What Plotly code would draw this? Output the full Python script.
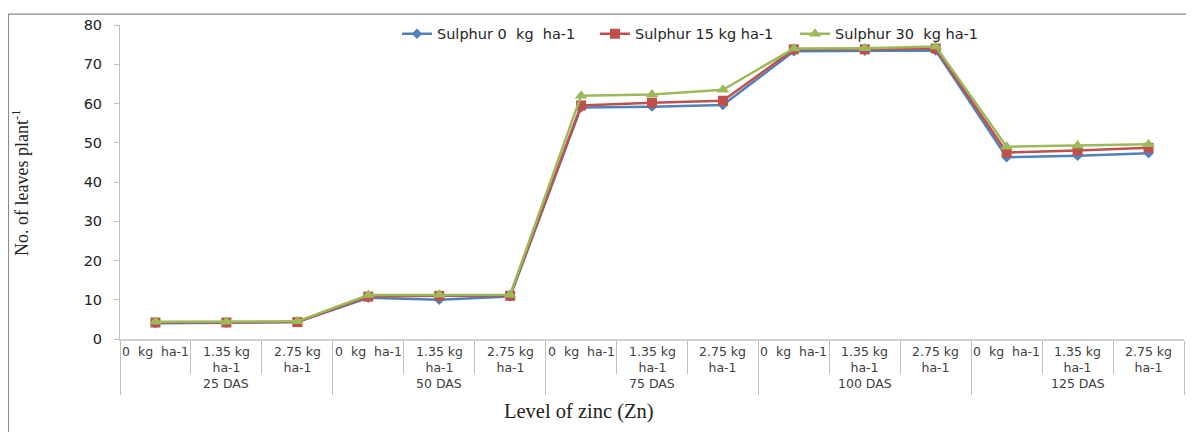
import plotly.graph_objects as go

groups = ["25 DAS", "50 DAS", "75 DAS", "100 DAS", "125 DAS"]
zinc_levels = ["0\u00a0 kg\u00a0 ha-1", "1.35 kg<br>ha-1", "2.75 kg<br>ha-1"]
series_names = ["Sulphur 0\u00a0 kg\u00a0 ha-1", "Sulphur 15 kg ha-1", "Sulphur 30\u00a0 kg ha-1"]

s0 = [4.0, 4.1, 4.3, 10.5, 10.0, 10.8, 59.0, 59.2, 59.6, 73.3, 73.4, 73.5, 46.3, 46.7, 47.3]
s15 = [4.2, 4.2, 4.3, 10.8, 11.0, 11.0, 59.5, 60.2, 60.7, 73.8, 73.8, 74.0, 47.5, 48.0, 48.7]
s30 = [4.4, 4.4, 4.5, 11.2, 11.3, 11.3, 62.0, 62.3, 63.5, 74.0, 74.1, 74.5, 49.0, 49.3, 49.6]

colors = ["#4F81BD", "#C0504D", "#9BBB59"]
symbols = ["diamond", "square", "triangle-up"]
msizes = [8, 10, 11]
legend_ids = ["legend", "legend2", "legend3"]
legend_x = [0.2603, 0.4464, 0.6344]

n = len(groups) * len(zinc_levels)
xs = list(range(n))

fig = go.Figure()
for name, vals, c, sym, ms, lg in zip(series_names, [s0, s15, s30], colors, symbols, msizes, legend_ids):
    fig.add_trace(go.Scatter(
        x=xs, y=vals, name=name, mode="lines+markers", legend=lg,
        line=dict(color=c, width=2.5),
        marker=dict(symbol=sym, size=ms, color=c),
    ))

label_font = dict(family="DejaVu Sans", size=12.5, color="#404040")
ann = []
for gi, g in enumerate(groups):
    for zi, z in enumerate(zinc_levels):
        ann.append(dict(x=gi * 3 + zi, y=0, xref="x", yref="paper", text=z,
                        showarrow=False, yanchor="top", yshift=-3, font=label_font))
    ann.append(dict(x=gi * 3 + 1, y=0, xref="x", yref="paper", text=g,
                    showarrow=False, yanchor="middle", yshift=-44, font=label_font))

ann.append(dict(x=-0.093, y=0.497, xref="paper", yref="paper", xanchor="center", yanchor="middle",
                text="No. of leaves plant<sup>-1</sup>", textangle=-90, showarrow=False,
                font=dict(family="Liberation Serif", size=18, color="#222")))
ann.append(dict(x=0.4314, y=-0.2296, xref="paper", yref="paper", xanchor="center", yanchor="middle",
                text="Level of zinc (Zn)", showarrow=False,
                font=dict(family="Liberation Serif", size=20.5, color="#222")))

legend_font = dict(family="DejaVu Sans", size=14.5, color="#262626")
legends = {}
for lg, lx in zip(legend_ids, legend_x):
    legends[lg] = dict(orientation="h", x=lx, y=0.972, xanchor="left", yanchor="middle",
                       font=legend_font, bgcolor="rgba(0,0,0,0)", itemwidth=30)

fig.update_layout(
    width=1186, height=424,
    margin=dict(l=112, r=10, t=13, b=93),
    plot_bgcolor="white", paper_bgcolor="white",
    showlegend=True,
    annotations=ann,
    shapes=[dict(type="rect", xref="paper", yref="paper",
                 x0=-0.1048, x1=1.2, y0=1.0346, y1=-0.5,
                 line=dict(color="#8c8c8c", width=1.2), fillcolor="rgba(0,0,0,0)")],
    **legends,
)

fig.update_xaxes(
    range=[-0.5, n - 0.5], showgrid=False, zeroline=False,
    showline=True, linecolor="#d0d0d0", linewidth=1.5,
    tickmode="array", tickvals=[-0.5, 2.5, 5.5, 8.5, 11.5, 14.5],
    ticks="outside", ticklen=54, tickcolor="#bfbfbf", tickwidth=1,
    showticklabels=False,
    minor=dict(tickmode="array", tickvals=[i - 0.5 for i in range(n + 1)],
               ticks="outside", ticklen=33, tickcolor="#bfbfbf", tickwidth=1),
)
fig.update_yaxes(
    range=[0, 80], tickmode="array", tickvals=list(range(0, 81, 10)),
    showgrid=False, zeroline=False, showline=True, linecolor="#bfbfbf", linewidth=1,
    ticks="outside", ticklen=5, tickcolor="#bfbfbf", ticklabelstandoff=9,
    tickfont=dict(family="DejaVu Sans", size=14.5, color="#222"),
)

fig.write_html("out.html")
